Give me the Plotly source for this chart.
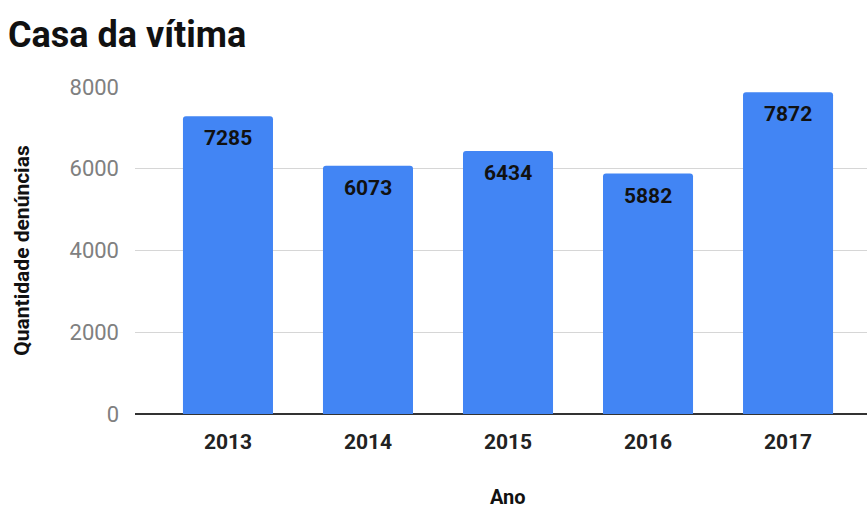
import plotly.graph_objects as go

# Denúncias registradas com local "Casa da vítima", por ano
anos = ["2013", "2014", "2015", "2016", "2017"]
denuncias = [7285, 6073, 6434, 5882, 7872]
y_ticks = [0, 2000, 4000, 6000, 8000]

BLUE = "#4285F4"
FONT = "Roboto"

fig = go.Figure(
    go.Bar(
        x=anos,
        y=denuncias,
        marker=dict(color=BLUE, line=dict(width=0), cornerradius=3),
        width=0.643,
        showlegend=False,
        hoverinfo="x+y",
    )
)

# value labels just inside the top of each bar (category positions by index)
for i, v in enumerate(denuncias):
    fig.add_annotation(
        x=i,
        y=v,
        xref="x",
        yref="y",
        text=f"<b>{v}</b>",
        showarrow=False,
        yanchor="top",
        yshift=-8,
        font=dict(family=FONT, size=21, color="#111111"),
    )

fig.update_layout(
    width=867,
    height=508,
    margin=dict(l=135, r=0, t=87, b=94),
    paper_bgcolor="white",
    plot_bgcolor="white",
    font=dict(family=FONT),
    title=dict(
        text="<b>Casa da vítima</b>",
        font=dict(family=FONT, size=36, color="#111111"),
        x=8 / 867,
        xref="container",
        xanchor="left",
        y=1 - 34 / 508,
        yref="container",
        yanchor="middle",
    ),
    bargap=0.357,
)

fig.update_xaxes(
    type="category",
    range=[-0.664, 4.564],
    showgrid=False,
    showline=False,
    zeroline=False,
    ticks="",
    tickfont=dict(family=FONT, size=21, color="#222222", weight="bold"),
    ticklabelstandoff=13,
)

fig.update_yaxes(
    range=[0, 8000],
    tickvals=y_ticks,
    ticktext=[str(v) for v in y_ticks],
    showgrid=True,
    gridcolor="#D6D6D6",
    gridwidth=1,
    zeroline=True,
    zerolinecolor="#333333",
    zerolinewidth=1.5,
    showline=False,
    ticks="",
    tickfont=dict(family=FONT, size=22, color="#808080"),
    ticklabelstandoff=15,
    title=dict(
        text="<b>Quantidade denúncias</b>",
        font=dict(family=FONT, size=21, color="#111111"),
        standoff=34,
    ),
)

# x axis title, centred under the middle category
fig.add_annotation(
    text="<b>Ano</b>",
    x=(len(anos) - 1) / 2,
    xref="x",
    y=0,
    yref="paper",
    yshift=-83,
    showarrow=False,
    font=dict(family=FONT, size=20, color="#111111"),
    yanchor="middle",
)

fig.write_html("out.html")
